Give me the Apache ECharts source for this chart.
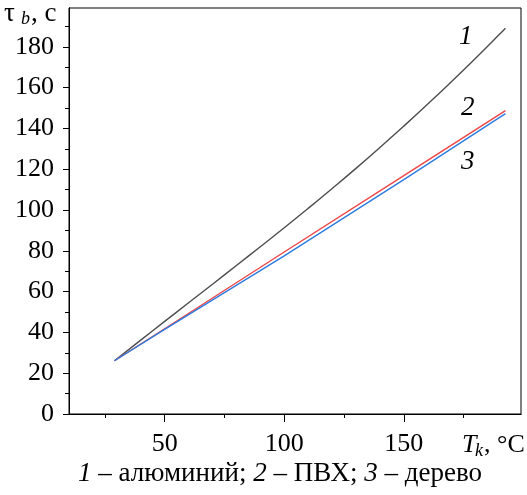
<!DOCTYPE html>
<html>
<head>
<meta charset="utf-8">
<script src="https://cdn.jsdelivr.net/npm/echarts@6/dist/echarts.min.js"></script>
<style>html,body{margin:0;padding:0;background:#fff}#c{width:527px;height:495px}</style>
</head>
<body>
<div id="c"></div>
<script>
// Data
const T1 = [29, 40, 50, 60, 70, 80, 90, 100, 110, 120, 130, 140, 150, 160, 170, 180, 190, 192.5];
const aluminum = [26.1, 36.2, 45.4, 54.5, 63.6, 72.8, 82.0, 91.3, 100.8, 110.5, 120.4, 130.6, 141.1, 151.9, 163.0, 174.4, 186.1, 189.1];
const T23 = [29, 50, 100, 150, 192.5];
const pvc = [26.1, 41.8, 79.4, 116.8, 148.7];
const wood = [26.1, 41.5, 77.5, 114.9, 147.2];

const xMajor = [50, 100, 150];
const xMinor = [25, 75, 125, 175];
const yMajor = [0, 20, 40, 60, 80, 100, 120, 140, 160, 180];
const yMinor = [10, 30, 50, 70, 90, 110, 130, 150, 170, 190];

const FONT = '"Liberation Serif", "Times New Roman", serif';
const pair = (xs, ys) => xs.map((x, i) => [x, ys[i]]);

const chart = echarts.init(document.getElementById('c'), null, {renderer: 'canvas'});
const xBase = {type: 'value', min: 10, max: 199, position: 'bottom',
  splitLine: {show: false}, axisLine: {show: true, lineStyle: {color: '#000', width: 1}}};
const yBase = {type: 'value', min: 0, max: 199, position: 'left',
  splitLine: {show: false}, axisLine: {show: true, lineStyle: {color: '#000', width: 1}}};
const labelRich = {n: {fontFamily: FONT, fontSize: 26, color: '#000'}};

chart.setOption({
  animation: false,
  grid: {left: 69, top: 8, right: 6, bottom: 81, show: true, borderColor: '#000', borderWidth: 1, backgroundColor: 'transparent'},
  xAxis: [
    Object.assign({}, xBase, {
      axisTick: {show: true, inside: false, length: 8, customValues: xMajor, lineStyle: {color: '#000'}},
      axisLabel: {show: true, customValues: xMajor, margin: 17, color: '#000', fontFamily: FONT, fontSize: 26,
        formatter: '{n|{value}}', rich: labelRich}
    }),
    Object.assign({}, xBase, {
      axisTick: {show: true, inside: false, length: 4, customValues: xMinor, lineStyle: {color: '#000'}},
      axisLabel: {show: false}
    })
  ],
  yAxis: [
    Object.assign({}, yBase, {
      axisTick: {show: true, inside: false, length: 6, customValues: yMajor, lineStyle: {color: '#000'}},
      axisLabel: {show: true, customValues: yMajor, margin: 15, color: '#000', fontFamily: FONT, fontSize: 26,
        formatter: '{n|{value}}', rich: labelRich}
    }),
    Object.assign({}, yBase, {
      axisTick: {show: true, inside: false, length: 4, customValues: yMinor, lineStyle: {color: '#000'}},
      axisLabel: {show: false}
    })
  ],
  series: [
    {type: 'line', data: pair(T1, aluminum), showSymbol: false, smooth: true, lineStyle: {color: '#4d4d4d', width: 1.4}},
    {type: 'line', data: pair(T23, pvc), showSymbol: false, lineStyle: {color: '#ee4444', width: 1.4}},
    {type: 'line', data: pair(T23, wood), showSymbol: false, lineStyle: {color: '#2b7be0', width: 1.4}}
  ],
  graphic: [
    // y axis name
    {type: 'text', left: 4, top: 0, style: {text: 'τ', font: '27px ' + FONT, fill: '#000'}},
    {type: 'text', left: 21, top: 10, style: {text: 'b', font: 'italic 18px ' + FONT, fill: '#000'}},
    {type: 'text', left: 31, top: 0, style: {text: ', с', font: '27px ' + FONT, fill: '#000'}},
    // x axis name
    {type: 'text', left: 462, top: 432, style: {text: 'T', font: 'italic 26px ' + FONT, fill: '#000'}},
    {type: 'text', left: 475, top: 442, style: {text: 'k', font: 'italic 18px ' + FONT, fill: '#000'}},
    {type: 'text', left: 484, top: 432, style: {text: ', °C', font: '26px ' + FONT, fill: '#000'}},
    // curve labels
    {type: 'text', left: 459, top: 23, style: {text: '1', font: 'italic 27px ' + FONT, fill: '#000'}},
    {type: 'text', left: 461, top: 94, style: {text: '2', font: 'italic 27px ' + FONT, fill: '#000'}},
    {type: 'text', left: 461, top: 148, style: {text: '3', font: 'italic 27px ' + FONT, fill: '#000'}},
    // caption
    {type: 'text', left: 78, top: 460, style: {
      text: '{i|1} – алюминий; {i|2} – ПВХ; {i|3} – дерево',
      font: '27px ' + FONT, fill: '#000',
      rich: {i: {fontStyle: 'italic', fontFamily: FONT, fontSize: 27, fill: '#000', color: '#000'}}
    }}
  ]
});
</script>
</body>
</html>
